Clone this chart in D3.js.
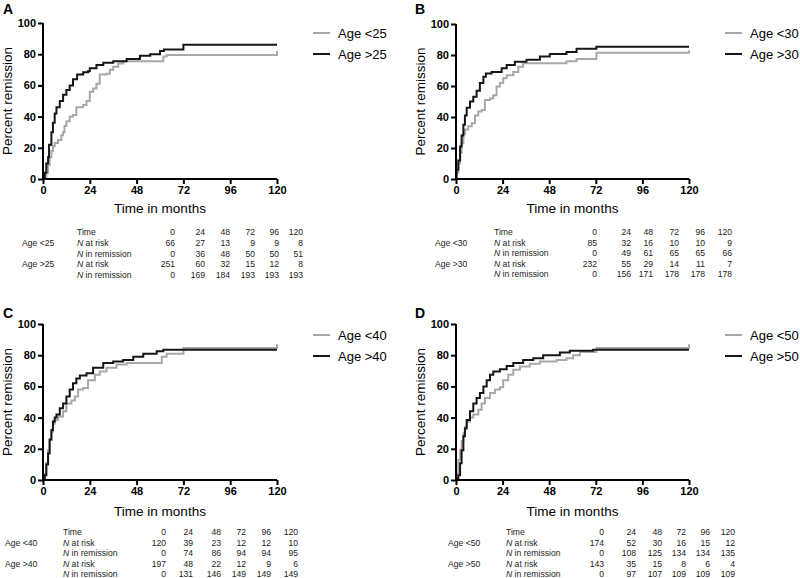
<!DOCTYPE html>
<html>
<head>
<meta charset="utf-8">
<script src="https://cdn.jsdelivr.net/npm/d3@7"></script>
<style>
	body{margin:0;background:#fff;}
	text{font-family:'Liberation Sans', Arial, Helvetica, sans-serif;}
</style>
</head>
<body>
<svg id="chart" width="800" height="578"></svg>
<script>
var timeTicks = [0, 24, 48, 72, 96, 120];
var yTicks = [0, 20, 40, 60, 80, 100];
var panelLetters = ["A", "B", "C", "D"];
var groupLabels = [["Age <25", "Age >25"], ["Age <30", "Age >30"], ["Age <40", "Age >40"], ["Age <50", "Age >50"]];

// KM curves: [month, percent in remission]
var youngA = [[0,0],[1.7,4],[2.6,9],[3.4,14],[4.3,18],[5.1,21],[6,23],[7.7,25],[9.4,28],[10.3,30],[11,34],[12,37],[13.7,40],[15.4,41],[17.1,46],[20.6,47.5],[22.3,50],[24,56],[25.7,58],[27.4,61],[29.1,67],[32.6,67.5],[34.3,70],[36,72],[38.6,74],[41.1,75.5],[61.7,78.5],[63.4,79.5],[120,82]];
var oldA = [[0,0],[0.9,4],[1.7,10],[2.6,14],[3.1,22],[4.3,30],[5.1,36],[6,42],[6.9,46],[8.6,50],[10.3,54],[12,57],[13.7,60],[15.4,64],[17.5,67],[20.6,68.5],[23.1,69],[24,71],[27.4,73],[30.9,74.5],[36,75.5],[42.9,77],[49.7,79],[55,80],[60,82],[62,83],[72,86],[120,86]];
var youngB = [[0,0],[0.3,4],[1.2,10],[2.1,17],[2.9,23],[3.8,29],[4.6,32],[6.3,34],[8.1,36],[9.8,41],[11.5,43.5],[13.2,44.5],[14.9,51],[17.5,52],[19.2,54],[20.9,59.6],[22.6,62],[24.3,65],[26.1,67],[29.5,69],[32.1,72.5],[34.6,74.6],[56.9,76],[62.1,77.5],[72.3,81.5],[120,83]];
var oldB = [[0,0],[0.3,6],[1.2,12],[2.1,21],[2.9,28],[3.8,35],[4.6,41],[5.5,46],[7.2,50],[8.9,53],[10.6,57],[12.3,62],[14.1,66],[15.4,68],[18.3,69],[23.5,71.5],[26.1,73.5],[30.3,75.7],[36.3,77],[43.2,79],[48.3,80.6],[56.9,82],[62.1,84],[72.3,85.4],[120,85.4]];
var youngC = [[0,0],[0.9,4],[1.7,11],[2.6,19],[3.4,26],[4.3,31],[5.1,36],[6,38.5],[7.7,40.7],[10.3,44],[12,49],[14.6,51],[16.3,53.5],[18,58],[20.6,59],[23.1,64],[26.6,67.5],[29.1,69.6],[32.6,72],[37.7,74],[42.9,75],[60.9,79],[63.4,81],[72,84.6],[120,87]];
var oldC = [[0,0],[0.9,3],[1.7,10],[2.6,17],[3.4,26],[4.3,32],[5.1,37.5],[6,40],[6.9,42],[8.6,46],[10.3,49],[12,53.5],[13.7,58],[15.4,62],[17.1,65],[18.9,67],[22.3,68.5],[25.7,72],[30.9,75],[36,76],[41.1,77],[46.3,79],[51.4,81],[58.3,82.5],[61.7,83.5],[120,83.5]];
var youngD = [[0,0],[0.3,4],[1.2,13],[2.1,19],[2.9,25],[3.8,30],[4.6,34],[5.5,37.5],[7.2,40],[8.9,42],[11.5,45],[13.2,49],[14.9,52.5],[17.5,55.7],[20.1,58],[22.6,59.5],[24.3,64],[26.9,67.5],[29.5,70.6],[32.9,72.8],[38,74.5],[43.2,76],[51.8,77],[56.9,78],[60.3,80],[63.8,82],[72.3,84.6],[120,87]];
var oldD = [[0,0],[0.3,1],[1.2,3],[2.1,10.7],[2.9,19],[3.8,28],[4.6,33],[5.5,38.5],[7.2,44],[8.9,49],[10.6,52.5],[12.3,55.7],[14.1,60],[15.8,64],[17.5,67.5],[19.2,69.6],[22.6,71],[26.1,73],[29.5,75],[34.6,77],[39.8,78],[44.9,80],[53.5,81.8],[58.6,82.9],[70.6,83.5],[120,83.5]];

// number at risk / in remission tables
var riskYoungA = [66, 27, 13, 9, 9, 8],   remYoungA = [0, 36, 48, 50, 50, 51];
var riskOldA = [251, 60, 32, 15, 12, 8],  remOldA = [0, 169, 184, 193, 193, 193];
var riskYoungB = [85, 32, 16, 10, 10, 9], remYoungB = [0, 49, 61, 65, 65, 66];
var riskOldB = [232, 55, 29, 14, 11, 7],  remOldB = [0, 156, 171, 178, 178, 178];
var riskYoungC = [120, 39, 23, 12, 12, 10], remYoungC = [0, 74, 86, 94, 94, 95];
var riskOldC = [197, 48, 22, 12, 9, 6],   remOldC = [0, 131, 146, 149, 149, 149];
var riskYoungD = [174, 52, 30, 16, 15, 12], remYoungD = [0, 108, 125, 134, 134, 135];
var riskOldD = [143, 35, 15, 8, 6, 4],    remOldD = [0, 97, 107, 109, 109, 109];

var curves = [[youngA, oldA], [youngB, oldB], [youngC, oldC], [youngD, oldD]];
var tables = [
	[riskYoungA, remYoungA, riskOldA, remOldA],
	[riskYoungB, remYoungB, riskOldB, remOldB],
	[riskYoungC, remYoungC, riskOldC, remOldC],
	[riskYoungD, remYoungD, riskOldD, remOldD]
];

// layout of each panel (pixels)
var layout = [
	{x0:43, x1:277, top:23, bottom:179, letterX:3, letterY:14, legX:313, legY:[33,54], titleY:213,
		grpX:22, lblX:77, cols:[175,205,230,255,279,303], rows:[235,246,256.5,267,277.5]},
	{x0:456, x1:689, top:24, bottom:179, letterX:415, letterY:14, legX:725, legY:[33,54], titleY:213,
		grpX:435, lblX:494, cols:[597,631,653,679,705,732], rows:[235,245.5,256,266.5,277]},
	{x0:43, x1:277, top:324, bottom:480, letterX:3, letterY:318, legX:313, legY:[335,356], titleY:516,
		grpX:5, lblX:63, cols:[166,193,221,246,271,298], rows:[535,545.5,556,566.5,577]},
	{x0:456, x1:689, top:324, bottom:480, letterX:415, letterY:318, legX:725, legY:[335,356], titleY:516,
		grpX:448, lblX:506, cols:[604,636,662,686,710,735], rows:[535,545.5,556,566.5,577]}
];

var colors = ["#a8a8a8", "#161616"];
var svg = d3.select('#chart');

layout.forEach(function(p, i){
	var g = svg.append('g');
	var x = d3.scaleLinear().domain([0, 120]).range([p.x0, p.x1]);
	var y = d3.scaleLinear().domain([0, 100]).range([p.bottom, p.top]);

	// panel letter
	g.append('text').attr('x', p.letterX).attr('y', p.letterY)
		.attr('font-size', 14).attr('font-weight', 'bold').text(panelLetters[i]);

	// curves (gray first, black on top)
	var line = d3.line().x(function(d){return x(d[0]);}).y(function(d){return y(d[1]);})
		.curve(d3.curveStepAfter);
	curves[i].forEach(function(c, j){
		g.append('path').datum(c).attr('d', line)
			.attr('fill', 'none').attr('stroke', colors[j]).attr('stroke-width', 2);
	});

	// axes
	var xAxis = g.append('g').attr('transform', 'translate(0,' + p.bottom + ')')
		.call(d3.axisBottom(x).tickValues(timeTicks).tickSize(5).tickPadding(2));
	var yAxis = g.append('g').attr('transform', 'translate(' + p.x0 + ',0)')
		.call(d3.axisLeft(y).tickValues(yTicks).tickSize(5).tickPadding(2));
	[xAxis, yAxis].forEach(function(a){
		a.select('.domain').attr('stroke', '#000').attr('stroke-width', 2)
			.attr('d', a === xAxis ? 'M' + p.x0 + ',0H' + p.x1 : 'M0,' + p.bottom + 'V' + p.top);
		a.selectAll('.tick line').attr('stroke', '#000').attr('stroke-width', 2);
		a.selectAll('.tick text').attr('font-size', 11).attr('font-weight', 'bold')
			.attr('fill', '#000').style('font-family', "'Liberation Sans', Arial, sans-serif");
	});

	// axis titles
	g.append('text').attr('x', (p.x0 + p.x1) / 2).attr('y', p.titleY)
		.attr('text-anchor', 'middle').attr('font-size', 13.5).text('Time in months');
	g.append('text')
		.attr('transform', 'translate(' + (p.x0 - 31) + ',' + ((p.top + p.bottom) / 2) + ') rotate(-90)')
		.attr('text-anchor', 'middle').attr('font-size', 13.5).text('Percent remission');

	// legend
	groupLabels[i].forEach(function(lab, j){
		g.append('line').attr('x1', p.legX).attr('x2', p.legX + 17)
			.attr('y1', p.legY[j]).attr('y2', p.legY[j])
			.attr('stroke', colors[j]).attr('stroke-width', 2);
		g.append('text').attr('x', p.legX + 25).attr('y', p.legY[j] + 4.5)
			.attr('font-size', 13).text(lab);
	});

	// table under the plot
	var tb = tables[i];
	var rowsDef = [
		{grp:'', lbl:'Time', vals:timeTicks},
		{grp:groupLabels[i][0], lbl:'at risk', vals:tb[0]},
		{grp:'', lbl:'in remission', vals:tb[1]},
		{grp:groupLabels[i][1], lbl:'at risk', vals:tb[2]},
		{grp:'', lbl:'in remission', vals:tb[3]}
	];
	var t = g.append('g').attr('font-size', 8.6).attr('fill', '#222');
	rowsDef.forEach(function(r, k){
		var yy = p.rows[k];
		if(r.grp) t.append('text').attr('x', p.grpX).attr('y', yy).text(r.grp);
		var lt = t.append('text').attr('x', p.lblX).attr('y', yy);
		if(k > 0){
			lt.append('tspan').attr('font-style', 'italic').text('N');
			lt.append('tspan').text(' ' + r.lbl);
		}else{
			lt.text(r.lbl);
		}
		r.vals.forEach(function(v, c){
			t.append('text').attr('x', p.cols[c]).attr('y', yy)
				.attr('text-anchor', 'end').text(v);
		});
	});
});
</script>
</body>
</html>
